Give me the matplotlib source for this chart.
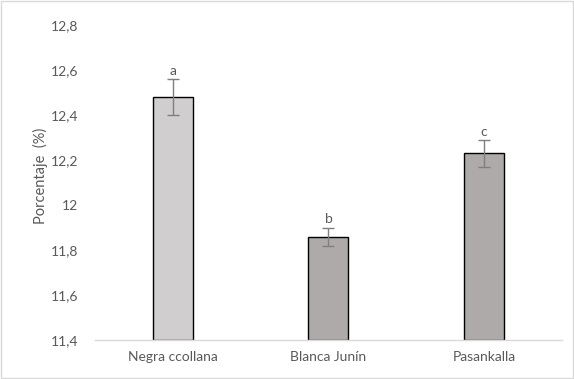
import matplotlib
matplotlib.use("Agg")
import matplotlib.pyplot as plt
from matplotlib.patches import Rectangle

categories = ["Negra ccollana", "Blanca Junín", "Pasankalla"]
values = [12.48, 11.86, 12.23]
errors = [0.08, 0.04, 0.06]
letters = ["a", "b", "c"]
yticks = [11.4, 11.6, 11.8, 12.0, 12.2, 12.4, 12.6, 12.8]
ytick_labels = ["11,4", "11,6", "11,8", "12", "12,2", "12,4", "12,6", "12,8"]
colors = ["#d0cece", "#aeaaaa", "#aeaaaa"]

plt.rcParams['font.family'] = ['Lato', 'DejaVu Sans']
fig = plt.figure(figsize=(5.74, 3.79), dpi=100)
ax = fig.add_axes([0.1655, 0.1029, 0.8135, 0.8311])

x = list(range(len(categories)))
ax.bar(x, [v - 11.4 for v in values], bottom=11.4, width=0.257, color=colors,
       edgecolor="black", linewidth=1.0, zorder=2)
ax.errorbar(x, values, yerr=errors, fmt="none", ecolor="#7f7f7f", elinewidth=1.0,
            capsize=4, capthick=1.0, zorder=3)
for xi, v, e, l in zip(x, values, errors, letters):
    ax.text(xi, v + e + 0.01, l, ha="center", va="bottom", fontsize=10, color="#595959")

ax.set_xlim(-0.5, 2.5)
ax.set_ylim(11.4, 12.8)
ax.set_yticks(yticks)
ax.set_yticklabels(ytick_labels)
ax.set_xticks(x)
ax.set_xticklabels(categories)
ax.tick_params(axis="y", length=0, pad=12, labelsize=10, labelcolor="#595959")
ax.tick_params(axis="x", length=0, pad=8, labelsize=10, labelcolor="#595959")
for s in ["top", "right", "left"]:
    ax.spines[s].set_visible(False)
ax.spines["bottom"].set_color("#d9d9d9")
ax.spines["bottom"].set_linewidth(1.0)
ax.set_ylabel("Porcentaje  (%)", fontsize=10.5, color="#595959")
ax.yaxis.set_label_coords(-0.10, 0.52)

fig.patches.append(Rectangle((0.001, 0.002), 0.997, 0.995, transform=fig.transFigure,
                             fill=False, edgecolor="#d9d9d9", linewidth=1.0))
fig.savefig("out.png", dpi=100)
